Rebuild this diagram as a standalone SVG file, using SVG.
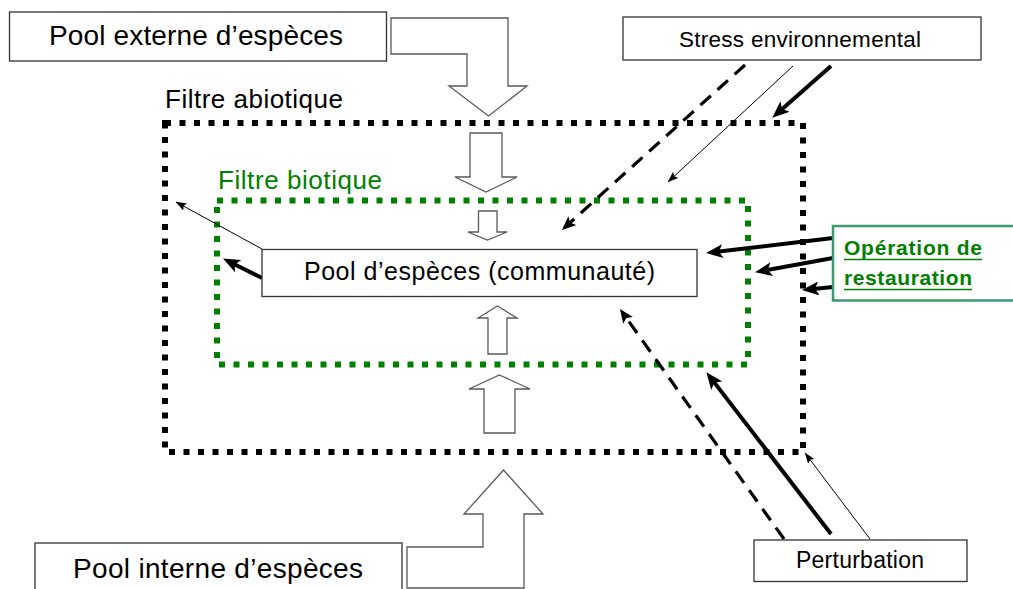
<svg xmlns="http://www.w3.org/2000/svg" width="1013" height="589" viewBox="0 0 1013 589">
<style>
text{font-family:"Liberation Sans",Arial,sans-serif;fill:#000}
.box{fill:#fff;stroke:#333;stroke-width:1.3}
.blk{fill:#fff;stroke:#595959;stroke-width:1.3;stroke-linejoin:miter}
.thick{stroke:#000;stroke-width:4;fill:none}
.thin{stroke:#000;stroke-width:1;fill:none}
.dash{stroke:#000;stroke-width:3.2;fill:none;stroke-dasharray:14 9}
.green{fill:#008000}
</style>
<defs>
<marker id="hThick" markerUnits="userSpaceOnUse" markerWidth="18" markerHeight="14" refX="6" refY="7" orient="auto" viewBox="0 0 18 14">
<path d="M0,0 L17,7 L0,14 L4,7 z" fill="#000"/>
</marker>
<marker id="hDash" markerUnits="userSpaceOnUse" markerWidth="16" markerHeight="12" refX="6" refY="6" orient="auto" viewBox="0 0 16 12">
<path d="M0,0 L14,6 L0,12 L3,6 z" fill="#000"/>
</marker>
<marker id="hThin" markerUnits="userSpaceOnUse" markerWidth="12" markerHeight="8" refX="10.5" refY="4" orient="auto" viewBox="0 0 12 8">
<path d="M0,0 L11,4 L0,8 L2,4 z" fill="#000"/>
</marker>
</defs>

<g id="filtre-abiotique">
<rect x="165" y="123" width="638" height="329" fill="none" stroke="#000" stroke-width="6" stroke-dasharray="6 8.5"/>
<text x="165" y="108" font-size="26" textLength="178" lengthAdjust="spacing">Filtre abiotique</text>
</g>
<g id="filtre-biotique">
<rect x="217" y="200.5" width="531" height="164" fill="none" stroke="#008000" stroke-width="6" stroke-dasharray="6 8.5"/>
<text x="218" y="189" font-size="26" class="green" textLength="164" lengthAdjust="spacing">Filtre biotique</text>
</g>

<g id="connectors">
<polygon class="blk" points="391,18 508,18 508,86 527,86 488.5,116 449,86 467,86 467,54 391,54"/>
<polygon class="blk" points="470,133 502,133 502,177 517,177 486,192 455,177 470,177"/>
<polygon class="blk" points="478.5,211 497,211 497,232 507,232 487.5,240 468,232 478.5,232"/>
<polygon class="blk" points="497.5,306 517,318 507,318 507,354 488,354 488,318 478,318"/>
<polygon class="blk" points="499.5,375 530,389 515,389 515,433 484,433 484,389 469,389"/>
<polygon class="blk" points="407,547 483,547 483,514 464,514 503.5,470 543,514 524,514 524,588 407,588"/>

<line class="dash" x1="745" y1="65" x2="567.9" y2="224.6" marker-end="url(#hDash)"/>
<line class="thin" x1="793" y1="66" x2="668" y2="182" marker-end="url(#hThin)"/>
<line class="thick" x1="831" y1="66" x2="780.5" y2="110.4" marker-end="url(#hThick)"/>

<line class="thin" x1="262" y1="249" x2="176" y2="202" marker-end="url(#hThin)"/>
<line class="thick" x1="262" y1="278" x2="232.9" y2="263.5" marker-end="url(#hThick)"/>

<line class="thick" x1="833" y1="238" x2="716.9" y2="251.8" marker-end="url(#hThick)"/>
<line class="thick" x1="833" y1="258" x2="765.8" y2="270.2" marker-end="url(#hThick)"/>
<line class="thick" x1="833" y1="287" x2="812.9" y2="289" marker-end="url(#hThick)"/>

<line class="dash" x1="784" y1="539" x2="624.6" y2="315.5" marker-end="url(#hDash)"/>
<line class="thick" x1="831" y1="534" x2="713.1" y2="380.9" marker-end="url(#hThick)"/>
<line class="thin" x1="870" y1="539" x2="805" y2="453" marker-end="url(#hThin)"/>
</g>

<g id="pool-externe">
<rect class="box" x="9.5" y="12" width="377" height="49"/>
<text x="196" y="45" font-size="28" text-anchor="middle" textLength="294" lengthAdjust="spacing">Pool externe d’espèces</text>
</g>
<g id="stress">
<rect class="box" x="623" y="17" width="358" height="43"/>
<text x="800" y="47" font-size="22.5" text-anchor="middle" textLength="242" lengthAdjust="spacing">Stress environnemental</text>
</g>
<g id="pool-communaute">
<rect class="box" x="262" y="249.5" width="435" height="47"/>
<text x="479.5" y="280" font-size="25" text-anchor="middle" textLength="351" lengthAdjust="spacing">Pool d’espèces (communauté)</text>
</g>
<g id="operation">
<rect x="833" y="226" width="190" height="74.5" fill="#fff" stroke="#3d9970" stroke-width="2.5"/>
<text x="844" y="255" font-size="21" font-weight="bold" class="green" textLength="138" lengthAdjust="spacing">Opération de</text>
<text x="844" y="285" font-size="21" font-weight="bold" class="green" textLength="128" lengthAdjust="spacing">restauration</text>
<line x1="844" y1="259.5" x2="982" y2="259.5" stroke="#008000" stroke-width="1.5"/>
<line x1="844" y1="289.5" x2="972" y2="289.5" stroke="#008000" stroke-width="1.5"/>
</g>
<g id="perturbation">
<rect class="box" x="754" y="540" width="213" height="41.5"/>
<text x="860" y="568" font-size="23" text-anchor="middle" textLength="128" lengthAdjust="spacing">Perturbation</text>
</g>
<g id="pool-interne">
<rect class="box" x="35" y="543" width="367" height="50"/>
<text x="218" y="578" font-size="28" text-anchor="middle" textLength="290" lengthAdjust="spacing">Pool interne d’espèces</text>
</g>
</svg>
